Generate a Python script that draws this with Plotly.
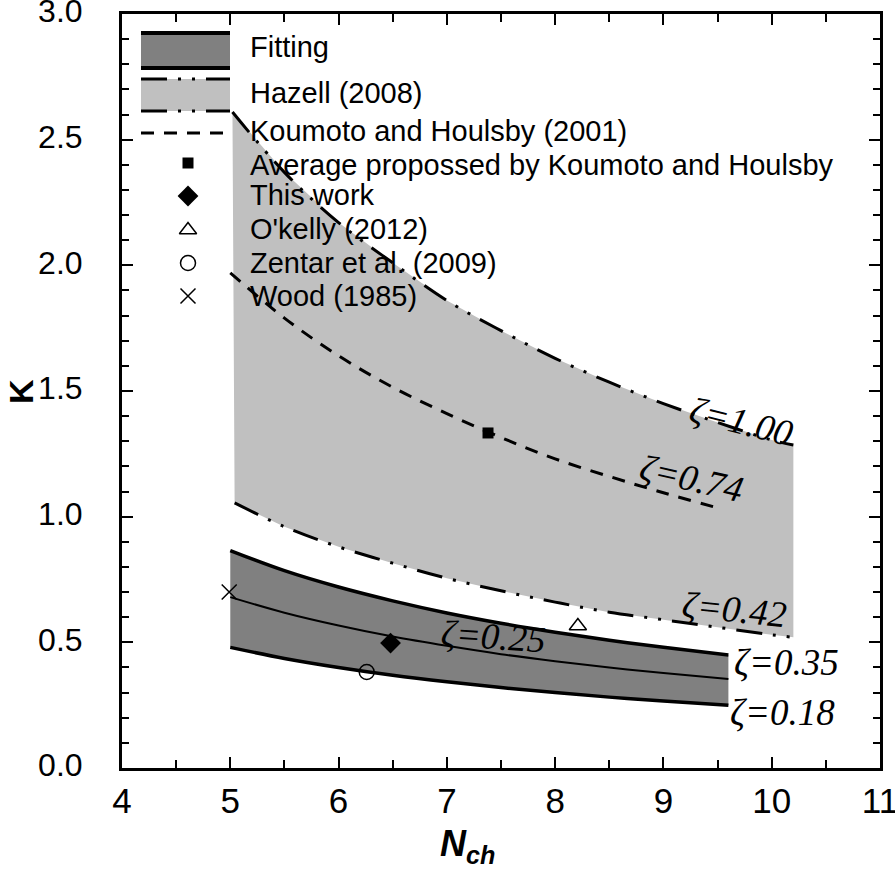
import plotly.graph_objects as go

# ---------------- data ----------------
hazell_x = [5.02, 5.5, 6.0, 6.5, 7.0, 7.5, 8.0, 8.5, 9.0, 9.5, 10.0, 10.2]
hazell_upper = [2.61, 2.37, 2.17, 2.01, 1.86, 1.74, 1.63, 1.535, 1.45, 1.375, 1.305, 1.285]   # zeta = 1.00
hazell_lower_x = [5.04, 5.5, 6.0, 6.5, 7.0, 7.5, 8.0, 8.5, 9.0, 9.5, 10.0, 10.2]
hazell_lower = [1.055, 0.96, 0.88, 0.815, 0.755, 0.705, 0.66, 0.62, 0.59, 0.56, 0.53, 0.52]  # zeta = 0.42

koumoto_x = [5.0, 5.5, 6.0, 6.5, 7.0, 7.5, 8.0, 8.5, 9.0, 9.5]
koumoto_y = [1.97, 1.79, 1.64, 1.515, 1.41, 1.315, 1.23, 1.16, 1.095, 1.035]  # zeta = 0.74

fit_x = [5.0, 5.5, 6.0, 6.5, 7.0, 7.5, 8.0, 8.5, 9.0, 9.6]
fit_upper = [0.865, 0.785, 0.72, 0.665, 0.617, 0.576, 0.54, 0.508, 0.48, 0.45]   # zeta = 0.35
fit_mid = [0.68, 0.618, 0.567, 0.523, 0.486, 0.453, 0.425, 0.40, 0.378, 0.354]   # zeta = 0.25
fit_lower = [0.48, 0.436, 0.40, 0.369, 0.343, 0.32, 0.30, 0.282, 0.267, 0.25]    # zeta = 0.18

avg_koumoto = ([7.38], [1.333])
this_work = ([6.48], [0.497])
okelly = ([8.21], [0.565])
zentar = ([6.26], [0.382])
wood = ([4.99], [0.70])

legend_labels = ["Fitting", "Hazell (2008)", "Koumoto and Houlsby (2001)",
                 "Average propossed by Koumoto and Houlsby", "This work",
                 "O'kelly (2012)", "Zentar et al. (2009)", "Wood (1985)"]

zeta_labels = ["ζ=1.00", "ζ=0.74", "ζ=0.42", "ζ=0.25", "ζ=0.35", "ζ=0.18"]

# ---------------- styles ----------------
DASHDOTDOT = "26px,11px,3px,11px,3px,11px"
DASH = "13px,10px"
SANS = "Liberation Sans, Arial, sans-serif"
SERIF = "Liberation Serif, Times New Roman, serif"

fig = go.Figure()

# Hazell band
fig.add_trace(go.Scatter(
    x=hazell_x + hazell_lower_x[::-1], y=hazell_upper + hazell_lower[::-1],
    fill="toself", fillcolor="#c0c0c0", line=dict(width=0), mode="lines",
    hoverinfo="skip", showlegend=False))
# Fitting band
fig.add_trace(go.Scatter(
    x=fit_x + fit_x[::-1], y=fit_upper + fit_lower[::-1],
    fill="toself", fillcolor="#808080", line=dict(width=0), mode="lines",
    hoverinfo="skip", showlegend=False))

# Hazell boundaries
fig.add_trace(go.Scatter(x=hazell_x, y=hazell_upper, mode="lines",
                         line=dict(color="black", width=3, dash=DASHDOTDOT, shape="spline"),
                         showlegend=False))
fig.add_trace(go.Scatter(x=hazell_lower_x, y=hazell_lower, mode="lines",
                         line=dict(color="black", width=3, dash=DASHDOTDOT, shape="spline"),
                         showlegend=False))
# Koumoto
fig.add_trace(go.Scatter(x=koumoto_x, y=koumoto_y, mode="lines",
                         line=dict(color="black", width=3, dash=DASH, shape="spline"),
                         showlegend=False))
# Fitting lines
fig.add_trace(go.Scatter(x=fit_x, y=fit_upper, mode="lines",
                         line=dict(color="black", width=3.5, shape="spline"), showlegend=False))
fig.add_trace(go.Scatter(x=fit_x, y=fit_mid, mode="lines",
                         line=dict(color="black", width=2, shape="spline"), showlegend=False))
fig.add_trace(go.Scatter(x=fit_x, y=fit_lower, mode="lines",
                         line=dict(color="black", width=3.5, shape="spline"), showlegend=False))

# markers
marker_specs = [
    (avg_koumoto, dict(symbol="square", size=11, color="black")),
    (this_work, dict(symbol="diamond", size=16, color="black")),
    (okelly, dict(symbol="triangle-up-open", size=15, color="black", line=dict(width=1.5))),
    (zentar, dict(symbol="circle-open", size=15, color="black", line=dict(width=1.5))),
    (wood, dict(symbol="x-thin-open", size=15, color="black", line=dict(width=1.5, color="black"))),
]
for (xs, ys), mk in marker_specs:
    fig.add_trace(go.Scatter(x=xs, y=ys, mode="markers", marker=mk, showlegend=False))


# ---------------- custom legend (paper-like overlay axes) ----------------
def px2paper(px, py):
    # window pixels of the plot area: x 122..880, y 14..768
    return (px - 122) / 758.0, (768 - py) / 754.0


leg_marker_y = [163, 196, 230, 263, 296]
for i, (_, mk) in enumerate(marker_specs):
    lx, ly = px2paper(188, leg_marker_y[i])
    fig.add_trace(go.Scatter(x=[lx], y=[ly], mode="markers", marker=mk,
                             xaxis="x2", yaxis="y2", showlegend=False, hoverinfo="skip"))

shapes = []
x0, _ = px2paper(141, 0)
x1, _ = px2paper(230, 0)
# Fitting swatch
_, fy0 = px2paper(0, 33)
_, fy1 = px2paper(0, 68)
shapes.append(dict(type="rect", xref="paper", yref="paper", x0=x0, x1=x1, y0=fy1, y1=fy0,
                   fillcolor="#808080", line=dict(width=0), layer="above"))
for yy in (fy0, fy1):
    shapes.append(dict(type="line", xref="paper", yref="paper", x0=x0, x1=x1, y0=yy, y1=yy,
                       line=dict(color="black", width=4), layer="above"))
# Hazell swatch
_, hy0 = px2paper(0, 79)
_, hy1 = px2paper(0, 111)
shapes.append(dict(type="rect", xref="paper", yref="paper", x0=x0, x1=x1, y0=hy1, y1=hy0,
                   fillcolor="#c0c0c0", line=dict(width=0), layer="above"))
for yy in (hy0, hy1):
    shapes.append(dict(type="line", xref="paper", yref="paper", x0=x0, x1=x1, y0=yy, y1=yy,
                       line=dict(color="black", width=3, dash=DASHDOTDOT), layer="above"))
# Koumoto swatch
_, ky = px2paper(0, 133)
shapes.append(dict(type="line", xref="paper", yref="paper", x0=x0, x1=x1, y0=ky, y1=ky,
                   line=dict(color="black", width=3, dash=DASH), layer="above"))

annotations = []
leg_text_y = [47, 93, 131, 165, 195, 229, 263, 296]
for lab, ty in zip(legend_labels, leg_text_y):
    tx, tyy = px2paper(248, ty)
    annotations.append(dict(text=lab, x=tx, y=tyy, xref="paper", yref="paper",
                            xanchor="left", yanchor="middle", showarrow=False,
                            font=dict(family=SANS, size=29, color="black")))

# zeta labels: (x, y, angle)
zeta_pos = [(9.72, 1.38, 14), (9.26, 1.15, 13), (9.66, 0.63, 6),
            (7.43, 0.525, 4), (10.14, 0.418, 0), (10.10, 0.219, 0)]
for lab, (zx, zy, ang) in zip(zeta_labels, zeta_pos):
    annotations.append(dict(text="<i>" + lab + "</i>", x=zx, y=zy, xref="x", yref="y",
                            xanchor="center", yanchor="middle",
                            showarrow=False, textangle=ang,
                            font=dict(family=SERIF, size=37, color="black")))

# axis titles
kx, kyp = px2paper(21, 392)
annotations.append(dict(text="<b>K</b>", x=kx, y=kyp, xref="paper", yref="paper",
                        xanchor="center", yanchor="middle",
                        showarrow=False, textangle=-90,
                        font=dict(family=SANS, size=34, color="black")))
nx, ny = px2paper(467, 846)
annotations.append(dict(text="<b><i>N</i></b><sub><b><i>ch</i></b></sub>", x=nx, y=ny,
                        xref="paper", yref="paper", xanchor="center", yanchor="middle",
                        showarrow=False,
                        font=dict(family=SANS, size=36, color="black")))

axis_common = dict(showgrid=False, zeroline=False, showline=True, linecolor="black",
                   linewidth=3, mirror="ticks", ticks="inside", tickcolor="black",
                   tickwidth=2, ticklen=11, ticklabeloverflow="allow", automargin=False)

fig.update_layout(
    width=895, height=876,
    margin=dict(l=122, r=15, t=14, b=108),
    paper_bgcolor="white", plot_bgcolor="white",
    showlegend=False,
    xaxis=dict(range=[4, 11], dtick=1, tick0=4,
               tickfont=dict(family=SANS, size=35, color="black"),
               ticklabelstandoff=0,
               minor=dict(dtick=0.5, ticks="inside", ticklen=8, tickwidth=2, tickcolor="black"),
               **axis_common),
    yaxis=dict(range=[0, 3], dtick=0.5, tick0=0, tickformat=".1f",
               tickfont=dict(family=SANS, size=32, color="black"),
               ticklabelstandoff=30, ticklabelshift=-3,
               minor=dict(dtick=0.1, ticks="inside", ticklen=7, tickwidth=2, tickcolor="black"),
               **axis_common),
    xaxis2=dict(range=[0, 1], overlaying="x", visible=False, fixedrange=True),
    yaxis2=dict(range=[0, 1], overlaying="y", visible=False, fixedrange=True),
    shapes=shapes,
    annotations=annotations,
)

# remove the default page margin so the figure sits at the window's top-left corner
fig.write_html("out.html",
               config={"displayModeBar": False},
               post_script="document.body.style.margin='0px';document.body.style.overflow='hidden';")
